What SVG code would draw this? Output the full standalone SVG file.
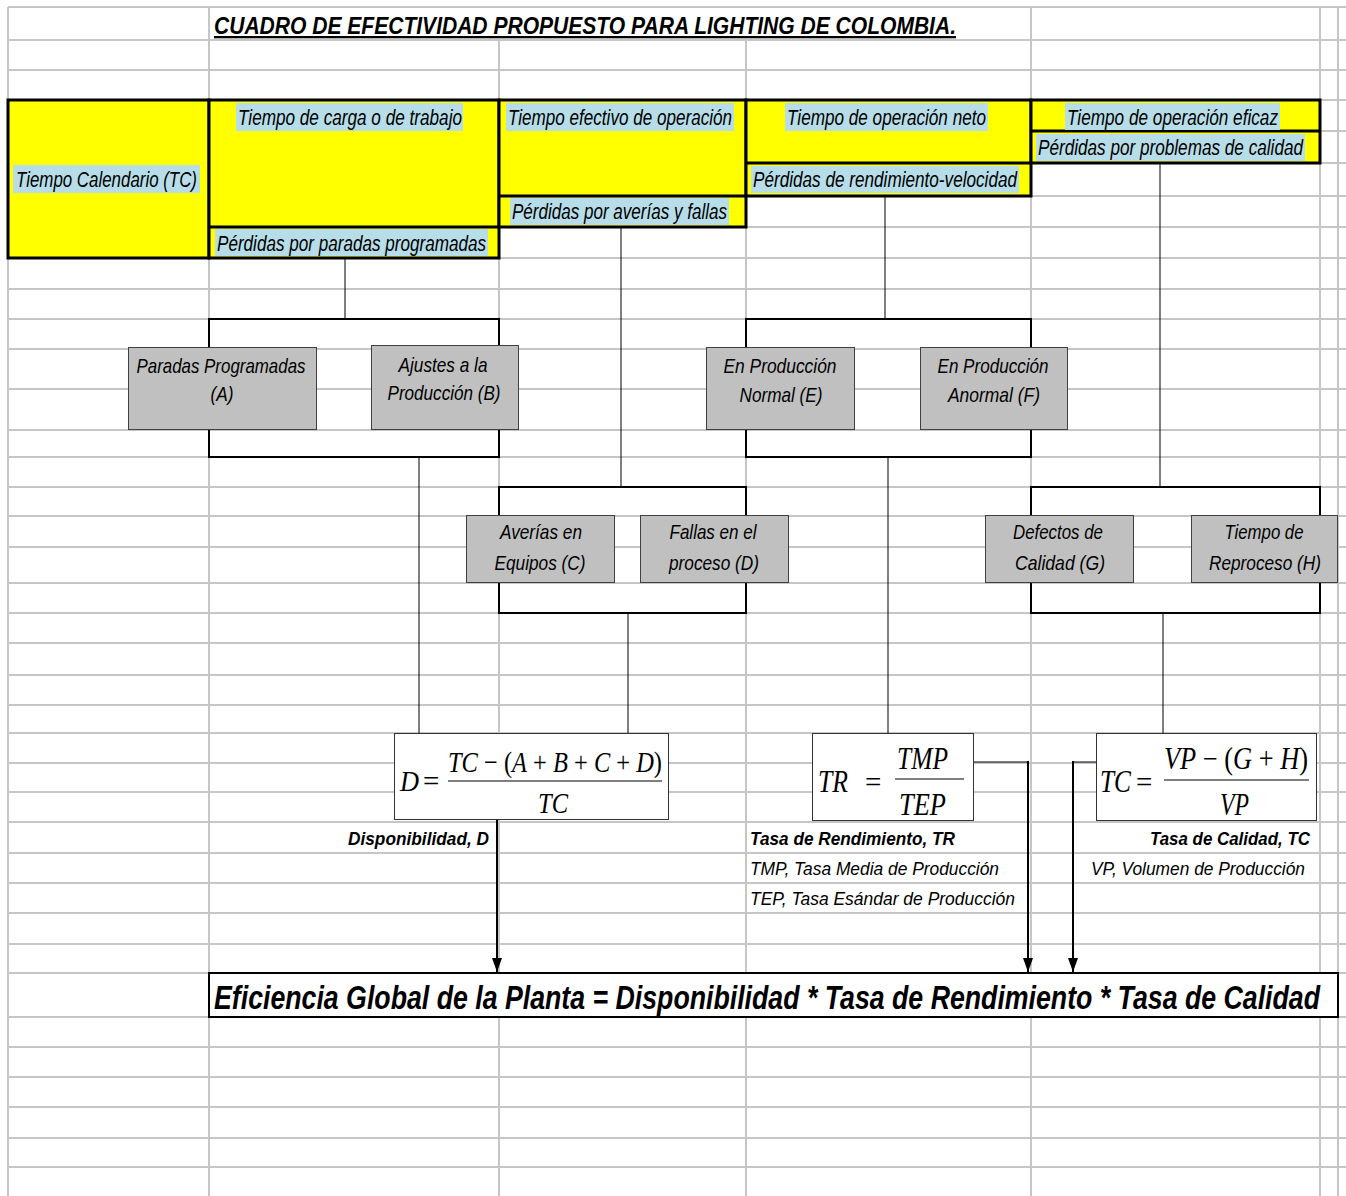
<svg xmlns="http://www.w3.org/2000/svg" width="1346" height="1196" viewBox="0 0 1346 1196">
  <style>
    .grid line { stroke: #c6c6c6; stroke-width: 2; }
    .blk { fill: #ffff00; stroke: #000; stroke-width: 3; }
    .div { stroke: #000; stroke-width: 3; }
    .hl { fill: #b7dee8; }
    .lbl { font-family: "Liberation Sans", Arial, sans-serif; font-style: italic; font-size: 22px; fill: #000; }
    .box { fill: #c0c0c0; stroke: #404040; stroke-width: 1; }
    .bt { font-family: "Liberation Sans", Arial, sans-serif; font-style: italic; font-size: 21px; fill: #000; text-anchor: middle; }
    .fbox { fill: #fff; stroke: #333; stroke-width: 1; }
    .m { font-family: "Liberation Serif", "Times New Roman", serif; font-style: italic; fill: #000; }
    .op { font-style: normal; }
    .note { font-family: "Liberation Sans", Arial, sans-serif; font-style: italic; font-size: 18px; fill: #000; }
    .b { font-weight: bold; }
    .thin { stroke: #000; stroke-width: 1; fill: none; }
    .brk { stroke: #000; stroke-width: 2; fill: none; }
    .arr { stroke: #000; stroke-width: 2; fill: none; marker-end: url(#tip); }
  </style>
  <defs>
    <!-- downward arrowhead, drawn along the path direction -->
    <marker id="tip" viewBox="0 0 14 10" refX="14" refY="5" markerWidth="14" markerHeight="10" markerUnits="userSpaceOnUse" orient="auto">
      <path d="M0,0 L14,5 L0,10 Z" fill="#000"/>
    </marker>
  </defs>

  <rect x="0" y="0" width="1346" height="1196" fill="#fff"/>

  <!-- spreadsheet grid -->
  <g class="grid">
    <line x1="8" y1="7" x2="8" y2="1196"/>
    <line x1="209" y1="7" x2="209" y2="1196"/>
    <line x1="499" y1="40" x2="499" y2="1196"/>
    <line x1="746" y1="40" x2="746" y2="1196"/>
    <line x1="1031" y1="7" x2="1031" y2="1196"/>
    <line x1="1320" y1="7" x2="1320" y2="1196"/>
    <line x1="1338" y1="7" x2="1338" y2="1196"/>
    <line x1="8" y1="7" x2="1346" y2="7"/>
    <line x1="8" y1="40" x2="1346" y2="40"/>
    <line x1="8" y1="70" x2="1346" y2="70"/>
    <line x1="8" y1="100" x2="1346" y2="100"/>
    <line x1="8" y1="131" x2="1346" y2="131"/>
    <line x1="8" y1="163" x2="1346" y2="163"/>
    <line x1="8" y1="196" x2="1346" y2="196"/>
    <line x1="8" y1="227" x2="1346" y2="227"/>
    <line x1="8" y1="258" x2="1346" y2="258"/>
    <line x1="8" y1="289" x2="1346" y2="289"/>
    <line x1="8" y1="319" x2="1346" y2="319"/>
    <line x1="8" y1="349" x2="1346" y2="349"/>
    <line x1="8" y1="389" x2="1346" y2="389"/>
    <line x1="8" y1="430" x2="1346" y2="430"/>
    <line x1="8" y1="457" x2="1346" y2="457"/>
    <line x1="8" y1="487" x2="1346" y2="487"/>
    <line x1="8" y1="516" x2="1346" y2="516"/>
    <line x1="8" y1="547" x2="1346" y2="547"/>
    <line x1="8" y1="583" x2="1346" y2="583"/>
    <line x1="8" y1="613" x2="1346" y2="613"/>
    <line x1="8" y1="643" x2="1346" y2="643"/>
    <line x1="8" y1="675" x2="1346" y2="675"/>
    <line x1="8" y1="705" x2="1346" y2="705"/>
    <line x1="8" y1="733" x2="1346" y2="733"/>
    <line x1="8" y1="763" x2="1346" y2="763"/>
    <line x1="8" y1="792" x2="1346" y2="792"/>
    <line x1="8" y1="822" x2="1346" y2="822"/>
    <line x1="8" y1="853" x2="1346" y2="853"/>
    <line x1="8" y1="883" x2="1346" y2="883"/>
    <line x1="8" y1="913" x2="1346" y2="913"/>
    <line x1="8" y1="944" x2="1346" y2="944"/>
    <line x1="8" y1="973" x2="1346" y2="973"/>
    <line x1="8" y1="1017" x2="1346" y2="1017"/>
    <line x1="8" y1="1047" x2="1346" y2="1047"/>
    <line x1="8" y1="1077" x2="1346" y2="1077"/>
    <line x1="8" y1="1107" x2="1346" y2="1107"/>
    <line x1="8" y1="1138" x2="1346" y2="1138"/>
    <line x1="8" y1="1167" x2="1346" y2="1167"/>
  </g>

  <!-- title -->
  <g id="title">
    <rect x="210" y="8" width="820" height="31" fill="#fff"/>
    <text x="214" y="34" font-family="Liberation Sans, Arial, sans-serif" font-size="23" font-weight="bold" font-style="italic" text-decoration="underline" textLength="742" lengthAdjust="spacingAndGlyphs">CUADRO DE EFECTIVIDAD PROPUESTO PARA LIGHTING DE COLOMBIA.</text>
  </g>

  <!-- time blocks -->
  <g id="tiempo-calendario">
    <rect class="blk" x="8" y="100" width="201" height="158"/>
    <rect class="hl" x="13" y="165" width="187" height="28"/>
    <text class="lbl" x="16" y="187" textLength="181" lengthAdjust="spacingAndGlyphs">Tiempo Calendario (TC)</text>
  </g>
  <g id="tiempo-carga">
    <rect class="blk" x="209" y="100" width="290" height="158"/>
    <line class="div" x1="209" y1="227" x2="499" y2="227"/>
    <rect class="hl" x="236" y="103" width="227" height="28"/>
    <text class="lbl" x="238" y="125" textLength="224" lengthAdjust="spacingAndGlyphs">Tiempo de carga o de trabajo</text>
    <rect class="hl" x="215" y="229" width="273" height="27"/>
    <text class="lbl" x="217" y="251" textLength="269" lengthAdjust="spacingAndGlyphs">Pérdidas por paradas programadas</text>
  </g>
  <g id="tiempo-efectivo">
    <rect class="blk" x="499" y="100" width="247" height="127"/>
    <line class="div" x1="499" y1="196" x2="746" y2="196"/>
    <rect class="hl" x="506" y="103" width="228" height="28"/>
    <text class="lbl" x="508" y="125" textLength="224" lengthAdjust="spacingAndGlyphs">Tiempo efectivo de operación</text>
    <rect class="hl" x="510" y="198" width="219" height="27"/>
    <text class="lbl" x="512" y="219" textLength="215" lengthAdjust="spacingAndGlyphs">Pérdidas por averías y fallas</text>
  </g>
  <g id="tiempo-neto">
    <rect class="blk" x="746" y="100" width="285" height="96"/>
    <line class="div" x1="746" y1="163" x2="1031" y2="163"/>
    <rect class="hl" x="785" y="103" width="203" height="28"/>
    <text class="lbl" x="787" y="125" textLength="199" lengthAdjust="spacingAndGlyphs">Tiempo de operación neto</text>
    <rect class="hl" x="751" y="166" width="268" height="27"/>
    <text class="lbl" x="753" y="187" textLength="264" lengthAdjust="spacingAndGlyphs">Pérdidas de rendimiento-velocidad</text>
  </g>
  <g id="tiempo-eficaz">
    <rect class="blk" x="1031" y="100" width="289" height="63"/>
    <line class="div" x1="1031" y1="131" x2="1320" y2="131"/>
    <rect class="hl" x="1065" y="103" width="215" height="27"/>
    <text class="lbl" x="1067" y="125" textLength="211" lengthAdjust="spacingAndGlyphs">Tiempo de operación eficaz</text>
    <rect class="hl" x="1036" y="134" width="269" height="27"/>
    <text class="lbl" x="1038" y="155" textLength="265" lengthAdjust="spacingAndGlyphs">Pérdidas por problemas de calidad</text>
  </g>

  <!-- connectors -->
  <g id="connectors">
    <line class="thin" x1="345" y1="258" x2="345" y2="318"/>
    <polyline class="brk" points="209,349 209,319 499,319 499,346"/>
    <polyline class="brk" points="209,429 209,457 499,457 499,429"/>
    <line class="thin" x1="419" y1="457" x2="419" y2="733"/>

    <line class="thin" x1="621" y1="227" x2="621" y2="486"/>
    <polyline class="brk" points="499,516 499,487 746,487 746,516"/>
    <polyline class="brk" points="499,582 499,613 746,613 746,582"/>
    <line class="thin" x1="628" y1="613" x2="628" y2="733"/>

    <line class="thin" x1="885" y1="196" x2="885" y2="318"/>
    <polyline class="brk" points="746,347 746,319 1031,319 1031,347"/>
    <polyline class="brk" points="746,429 746,457 1031,457 1031,429"/>
    <line class="thin" x1="888" y1="457" x2="888" y2="733"/>

    <line class="thin" x1="1160" y1="163" x2="1160" y2="486"/>
    <polyline class="brk" points="1031,516 1031,487 1320,487 1320,516"/>
    <polyline class="brk" points="1031,582 1031,613 1320,613 1320,582"/>
    <line class="thin" x1="1163" y1="613" x2="1163" y2="733"/>

    <line class="arr" x1="497" y1="820" x2="497" y2="972"/>
    <polyline class="thin" points="974,762 1028,762"/>
    <line class="arr" x1="1028" y1="761" x2="1028" y2="972"/>
    <polyline class="thin" points="1096,762 1073,762"/>
    <line class="arr" x1="1073" y1="761" x2="1073" y2="972"/>
  </g>

  <!-- loss categories -->
  <g id="paradas-programadas">
    <rect class="box" x="128.5" y="347.5" width="188" height="82"/>
    <text class="bt" x="221" y="373" textLength="169" lengthAdjust="spacingAndGlyphs">Paradas Programadas</text>
    <text class="bt" x="222" y="401" textLength="23" lengthAdjust="spacingAndGlyphs">(A)</text>
  </g>
  <g id="ajustes-produccion">
    <rect class="box" x="371.5" y="345.5" width="147" height="84"/>
    <text class="bt" x="443" y="372" textLength="89" lengthAdjust="spacingAndGlyphs">Ajustes a la</text>
    <text class="bt" x="444" y="400" textLength="113" lengthAdjust="spacingAndGlyphs">Producción (B)</text>
  </g>
  <g id="averias-equipos">
    <rect class="box" x="466.5" y="515.5" width="148" height="67"/>
    <text class="bt" x="541" y="539" textLength="82" lengthAdjust="spacingAndGlyphs">Averías en</text>
    <text class="bt" x="540" y="570" textLength="91" lengthAdjust="spacingAndGlyphs">Equipos (C)</text>
  </g>
  <g id="fallas-proceso">
    <rect class="box" x="640.5" y="515.5" width="148" height="67"/>
    <text class="bt" x="713" y="539" textLength="87" lengthAdjust="spacingAndGlyphs">Fallas en el</text>
    <text class="bt" x="714" y="570" textLength="90" lengthAdjust="spacingAndGlyphs">proceso (D)</text>
  </g>
  <g id="produccion-normal">
    <rect class="box" x="706.5" y="347.5" width="148" height="82"/>
    <text class="bt" x="780" y="373" textLength="113" lengthAdjust="spacingAndGlyphs">En Producción</text>
    <text class="bt" x="781" y="402" textLength="83" lengthAdjust="spacingAndGlyphs">Normal (E)</text>
  </g>
  <g id="produccion-anormal">
    <rect class="box" x="920.5" y="347.5" width="147" height="82"/>
    <text class="bt" x="993" y="373" textLength="111" lengthAdjust="spacingAndGlyphs">En Producción</text>
    <text class="bt" x="994" y="402" textLength="92" lengthAdjust="spacingAndGlyphs">Anormal (F)</text>
  </g>
  <g id="defectos-calidad">
    <rect class="box" x="985.5" y="515.5" width="148" height="67"/>
    <text class="bt" x="1058" y="539" textLength="90" lengthAdjust="spacingAndGlyphs">Defectos de</text>
    <text class="bt" x="1060" y="570" textLength="90" lengthAdjust="spacingAndGlyphs">Calidad (G)</text>
  </g>
  <g id="tiempo-reproceso">
    <rect class="box" x="1191.5" y="515.5" width="146" height="67"/>
    <text class="bt" x="1264" y="539" textLength="79" lengthAdjust="spacingAndGlyphs">Tiempo de</text>
    <text class="bt" x="1265" y="570" textLength="112" lengthAdjust="spacingAndGlyphs">Reproceso (H)</text>
  </g>

  <!-- ratio formulas -->
  <g id="disponibilidad">
    <rect class="fbox" x="394.5" y="733.5" width="274" height="86"/>
    <text class="m" x="400" y="791" font-size="30" textLength="19" lengthAdjust="spacingAndGlyphs">D</text>
    <text class="m op" x="423" y="791" font-size="29">=</text>
    <text class="m" x="448" y="772" font-size="30" textLength="214" lengthAdjust="spacingAndGlyphs">TC<tspan class="op"> − (</tspan>A<tspan class="op"> + </tspan>B<tspan class="op"> + </tspan>C<tspan class="op"> + </tspan>D<tspan class="op">)</tspan></text>
    <line x1="448" y1="781" x2="662" y2="781" stroke="#000" stroke-width="1.2"/>
    <text class="m" x="538" y="813" font-size="30" textLength="30" lengthAdjust="spacingAndGlyphs">TC</text>
    <text class="note b" x="348" y="845" textLength="141" lengthAdjust="spacingAndGlyphs">Disponibilidad, D</text>
  </g>
  <g id="tasa-rendimiento">
    <rect class="fbox" x="812.5" y="733.5" width="161" height="87"/>
    <text class="m" x="818" y="792" font-size="32" textLength="30" lengthAdjust="spacingAndGlyphs">TR</text>
    <text class="m op" x="865" y="792" font-size="29">=</text>
    <text class="m" x="897" y="769" font-size="31" textLength="51" lengthAdjust="spacingAndGlyphs">TMP</text>
    <line x1="895" y1="779" x2="964" y2="779" stroke="#000" stroke-width="1.2"/>
    <text class="m" x="899" y="815" font-size="31" textLength="47" lengthAdjust="spacingAndGlyphs">TEP</text>
    <text class="note b" x="750" y="845" textLength="205" lengthAdjust="spacingAndGlyphs">Tasa de Rendimiento, TR</text>
    <text class="note" x="750" y="875" textLength="249" lengthAdjust="spacingAndGlyphs">TMP, Tasa Media de Producción</text>
    <text class="note" x="750" y="905" textLength="265" lengthAdjust="spacingAndGlyphs">TEP, Tasa Esándar de Producción</text>
  </g>
  <g id="tasa-calidad">
    <rect class="fbox" x="1096.5" y="733.5" width="220" height="87"/>
    <text class="m" x="1100" y="792" font-size="31" textLength="31" lengthAdjust="spacingAndGlyphs">TC</text>
    <text class="m op" x="1136" y="792" font-size="29">=</text>
    <text class="m" x="1164" y="769" font-size="31" textLength="144" lengthAdjust="spacingAndGlyphs">VP<tspan class="op"> − (</tspan>G<tspan class="op"> + </tspan>H<tspan class="op">)</tspan></text>
    <line x1="1164" y1="780" x2="1309" y2="780" stroke="#000" stroke-width="1.2"/>
    <text class="m" x="1220" y="815" font-size="31" textLength="29" lengthAdjust="spacingAndGlyphs">VP</text>
    <text class="note b" x="1150" y="845" textLength="160" lengthAdjust="spacingAndGlyphs">Tasa de Calidad, TC</text>
    <text class="note" x="1091" y="875" textLength="214" lengthAdjust="spacingAndGlyphs">VP, Volumen de Producción</text>
  </g>

  <!-- overall efficiency -->
  <g id="eficiencia-global">
    <rect x="209" y="973" width="1129" height="44" fill="#fff" stroke="#000" stroke-width="2"/>
    <text x="214" y="1009" font-family="Liberation Sans, Arial, sans-serif" font-size="33" font-weight="bold" font-style="italic" textLength="1106" lengthAdjust="spacingAndGlyphs">Eficiencia Global de la Planta = Disponibilidad * Tasa de Rendimiento * Tasa de Calidad</text>
  </g>
</svg>
